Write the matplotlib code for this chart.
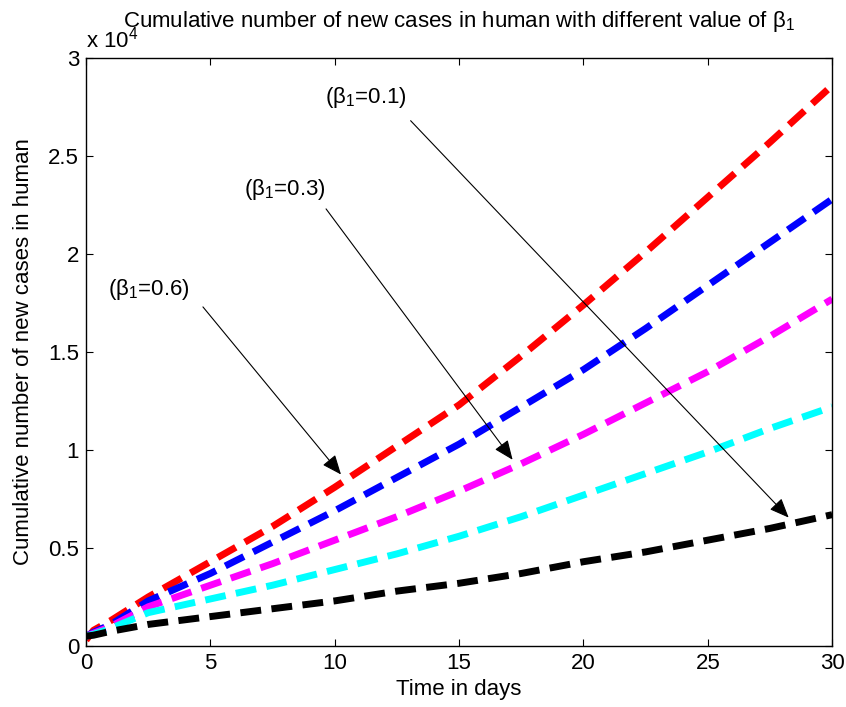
import numpy as np
import matplotlib.pyplot as plt

plt.rcParams['font.family'] = ['Liberation Sans', 'DejaVu Sans']
plt.rcParams['mathtext.fontset'] = 'custom'
plt.rcParams['mathtext.rm'] = 'Liberation Sans'
plt.rcParams['mathtext.it'] = 'Liberation Sans'

# time (days) and cumulative cases (in units of 10^4)
days = [0, 0.3, 1, 2.5, 5, 7.5, 10, 12.5, 15, 17.5, 20, 22.5, 25, 27.5, 30]
red = [0.03, 0.08, 0.13, 0.25, 0.43, 0.61, 0.81, 1.02, 1.23, 1.48, 1.74, 2.01, 2.29, 2.57, 2.86]
blue = [0.05, 0.07, 0.11, 0.23, 0.37, 0.53, 0.69, 0.86, 1.03, 1.22, 1.41, 1.62, 1.84, 2.06, 2.28]
magenta = [0.05, 0.065, 0.10, 0.20, 0.31, 0.42, 0.54, 0.66, 0.79, 0.93, 1.08, 1.24, 1.40, 1.58, 1.77]
cyan = [0.05, 0.06, 0.09, 0.17, 0.24, 0.31, 0.39, 0.47, 0.56, 0.66, 0.77, 0.88, 0.99, 1.11, 1.22]
black = [0.05, 0.055, 0.075, 0.11, 0.15, 0.19, 0.23, 0.28, 0.32, 0.37, 0.43, 0.48, 0.54, 0.60, 0.67]

series = [red, blue, magenta, cyan, black]
colors = ['#ff0000', '#0000ff', '#ff00ff', '#00ffff', '#000000']

# annotations: label, text pos, arrow start, arrow tip
labels = ['(β$_1$=0.1)', '(β$_1$=0.3)', '(β$_1$=0.6)']
text_pos = [(9.6, 2.80), (6.35, 2.33), (0.9, 1.82)]
arrow_from = [(13.05, 2.68), (9.65, 2.23), (4.7, 1.73)]
arrow_to = [(28.25, 0.655), (17.15, 0.95), (10.25, 0.875)]

fig = plt.figure(figsize=(8.46, 7.07), dpi=100)
ax = fig.add_axes([0.1017, 0.0863, 0.882, 0.8317])

for ys, c in zip(series, colors):
    ax.plot(days, ys, color=c, lw=5, dashes=(3, 1.5), solid_capstyle='butt',
            dash_capstyle='butt')

for lab, tp, af, at in zip(labels, text_pos, arrow_from, arrow_to):
    ax.text(tp[0], tp[1], lab, fontsize=16, va='center', ha='left')
    ax.annotate('', xy=at, xytext=af,
                arrowprops=dict(arrowstyle='-|>,head_length=1.2,head_width=0.5',
                                color='black', lw=0.8, shrinkA=0, shrinkB=0))

ax.set_xlim(0, 30)
ax.set_ylim(0, 3)
ax.set_xticks(np.arange(0, 31, 5))
ax.set_yticks(np.arange(0, 3.01, 0.5))
ax.set_yticklabels(['0', '0.5', '1', '1.5', '2', '2.5', '3'])
ax.tick_params(direction='in', top=True, right=True, length=5, labelsize=16, pad=5)
for s in ax.spines.values():
    s.set_linewidth(1.0)

ax.set_xlabel('Time in days', fontsize=16, labelpad=4)
ax.set_ylabel('Cumulative number of new cases in human', fontsize=16, labelpad=10)
ax.set_title('Cumulative number of new cases in human with different value of β$_1$',
             fontsize=16, pad=22)
ax.text(0.0, 1.01, 'x 10$^4$', transform=ax.transAxes, fontsize=16,
        ha='left', va='bottom')

fig.savefig('out.png', dpi=100)
